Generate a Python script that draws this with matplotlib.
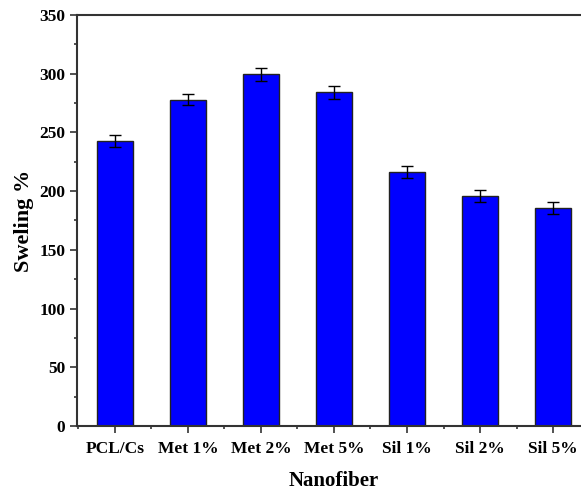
import matplotlib.pyplot as plt
from matplotlib.ticker import MultipleLocator, FixedLocator

categories = ['PCL/Cs', 'Met 1%', 'Met 2%', 'Met 5%', 'Sil 1%', 'Sil 2%', 'Sil 5%']
swelling = [242.5, 278, 299.5, 284, 216.5, 196, 185.5]
errors = [5, 5, 5.5, 5.5, 5, 5, 5]

plt.rcParams['font.family'] = ['Liberation Serif', 'DejaVu Serif']
plt.rcParams['font.weight'] = 'bold'

fig = plt.figure(figsize=(5.81, 4.90), dpi=100)
ax = fig.add_axes([0.1325, 0.1306, 0.8847, 0.8388])

x = list(range(len(categories)))
ax.bar(x, swelling, width=0.5, color='#0000ff', edgecolor='#222222', linewidth=1.0,
       yerr=errors, error_kw=dict(ecolor='black', elinewidth=1.0, capsize=4, capthick=1.0))

ax.set_xlim(-0.52, 6.52)
ax.set_ylim(0, 350)
ax.yaxis.set_major_locator(MultipleLocator(50))
ax.yaxis.set_minor_locator(MultipleLocator(25))
ax.set_xticks(x)
ax.set_xticklabels(categories)
ax.xaxis.set_minor_locator(FixedLocator([i + 0.5 for i in range(-1, 7)]))

for s in ax.spines.values():
    s.set_color('#333333')
    s.set_linewidth(1.5)
ax.spines['right'].set_visible(False)
ax.tick_params(which='major', direction='out', length=5, width=1.2, color='#333333', labelsize=12.5)
ax.tick_params(which='minor', direction='out', length=2.5, width=1.2, color='#333333')
ax.tick_params(axis='x', pad=6)

ax.set_xlabel('Nanofiber', fontsize=15, fontweight='bold', labelpad=10)
ax.set_ylabel('Sweling %', fontsize=16, fontweight='bold', labelpad=4)

fig.savefig('out.png', dpi=100)
